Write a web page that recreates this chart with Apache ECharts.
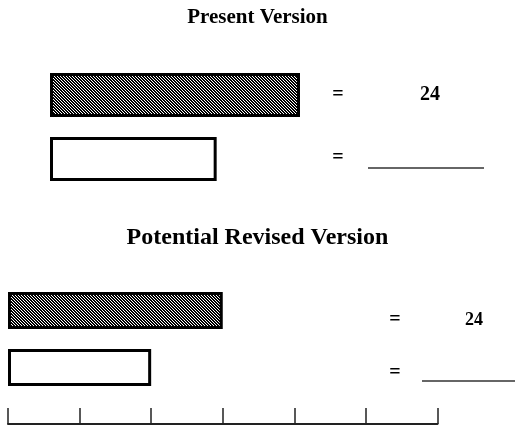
<!DOCTYPE html>
<html>
<head>
<meta charset="utf-8">
<script src="https://cdn.jsdelivr.net/npm/echarts@6/dist/echarts.min.js"></script>
<style>
html,body{margin:0;padding:0;background:#fff;}
#chart{width:515px;height:428px;}
</style>
</head>
<body>
<div id="chart"></div>
<script>
// ---- data ----
const titles = ['Present Version', 'Potential Revised Version'];
const categories = ['Shaded', 'Blank'];
const presentValues = [24, 16];
const revisedValues = [24, 16];
const valueLabels = ['24', ''];
const axisTicks = [0, 8, 16, 24, 32, 40, 48];

// hatch pattern
function makeHatch() {
  const n = 3;
  const c = document.createElement('canvas');
  c.width = n; c.height = n;
  const ctx = c.getContext('2d');
  ctx.fillStyle = '#ffffff';
  ctx.fillRect(0, 0, n, n);
  ctx.fillStyle = '#000000';
  for (let y = 0; y < n; y++) {
    for (let x = 0; x < n; x++) {
      if ((((x - y) % n) + n) % n < 2) ctx.fillRect(x, y, 1, 1);
    }
  }
  return c;
}
const hatch = { image: makeHatch(), repeat: 'repeat' };

function styled(values) {
  return values.map((v, i) => ({
    value: v,
    itemStyle: {
      color: i === 0 ? hatch : '#ffffff',
      borderColor: '#000',
      borderWidth: 3
    }
  }));
}

const serif = 'Liberation Serif';
const chart = echarts.init(document.getElementById('chart'), null, { renderer: 'canvas' });

const graphics = [];
function eqBlock(eqX, valX, valSize, y1, y2, lineX1, lineX2, lineY) {
  graphics.push({ type: 'text', x: eqX, y: y1, style: { text: '=', font: 'bold 20px ' + serif, fill: '#000', align: 'center', verticalAlign: 'middle' } });
  graphics.push({ type: 'text', x: valX, y: y1, style: { text: valueLabels[0], font: 'bold ' + valSize + 'px ' + serif, fill: '#000', align: 'center', verticalAlign: 'middle' } });
  graphics.push({ type: 'text', x: eqX, y: y2, style: { text: '=', font: 'bold 20px ' + serif, fill: '#000', align: 'center', verticalAlign: 'middle' } });
  graphics.push({ type: 'line', shape: { x1: lineX1, y1: lineY, x2: lineX2, y2: lineY }, style: { stroke: '#333', lineWidth: 1.5 } });
}
eqBlock(338, 430, 20, 95, 158, 368, 484, 168);
eqBlock(395, 474, 18, 320, 373, 422, 515, 381);

chart.setOption({
  animation: false,
  backgroundColor: '#fff',
  title: [
    { text: titles[0], left: 'center', top: 2, textStyle: { fontFamily: serif, fontWeight: 'bold', fontSize: 21, color: '#000' } },
    { text: titles[1], left: 'center', top: 221, textStyle: { fontFamily: serif, fontWeight: 'bold', fontSize: 24, color: '#000' } }
  ],
  grid: [
    { left: 50, width: 250, top: 63, height: 128 },
    { left: 8, width: 429.5, top: 282, height: 114 }
  ],
  xAxis: [
    { gridIndex: 0, type: 'value', min: 0, max: 24, show: false },
    {
      gridIndex: 1, type: 'value', min: axisTicks[0], max: axisTicks[axisTicks.length - 1],
      interval: axisTicks[1] - axisTicks[0], offset: 28,
      axisLine: { show: true, lineStyle: { color: '#222', width: 2 } },
      axisTick: { show: true, inside: true, length: 16, lineStyle: { color: '#222', width: 1.5 } },
      axisLabel: { show: false },
      splitLine: { show: false }
    }
  ],
  yAxis: [
    { gridIndex: 0, type: 'category', data: categories, inverse: true, show: false },
    { gridIndex: 1, type: 'category', data: categories, inverse: true, show: false }
  ],
  series: [
    { type: 'bar', xAxisIndex: 0, yAxisIndex: 0, data: styled(presentValues), barWidth: 44 },
    { type: 'bar', xAxisIndex: 1, yAxisIndex: 1, data: styled(revisedValues), barWidth: 37 }
  ],
  graphic: graphics
});
</script>
</body>
</html>
